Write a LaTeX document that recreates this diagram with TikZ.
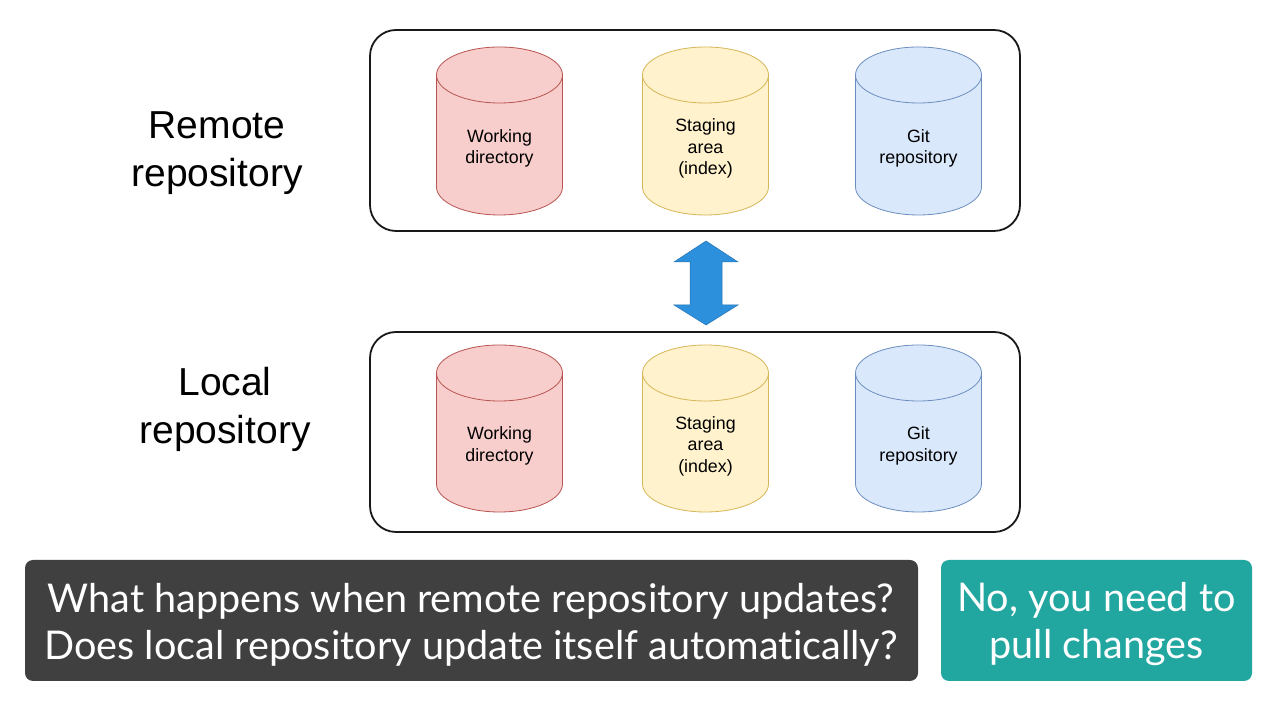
\documentclass[tikz,border=0pt]{standalone}
\usepackage{fontspec}
\setmainfont{Liberation Sans}
\newfontfamily\capfont[Ligatures=NoCommon]{Lato}
\begin{document}
\begin{tikzpicture}[x=1pt,y=1pt,
  repobox/.style={draw=black!90, line width=1.8pt, rounded corners=26pt},
  cyltext/.style={align=center, font=\fontsize{17.8}{21.5}\selectfont, text=black},
  sidelabel/.style={align=center, font=\fontsize{39}{48}\selectfont},
  capbox/.style={rounded corners=8pt},
  captext/.style={align=center, text=white, font=\capfont\fontsize{39.6}{47}\selectfont}]
\definecolor{redF}{HTML}{F8CECC}\definecolor{redD}{HTML}{B85450}
\definecolor{yelF}{HTML}{FFF2CC}\definecolor{yelD}{HTML}{D6B656}
\definecolor{bluF}{HTML}{DAE8FC}\definecolor{bluD}{HTML}{6C8EBF}
\definecolor{darkbg}{HTML}{404040}\definecolor{tealbg}{HTML}{21A6A0}
\definecolor{arrowblue}{HTML}{2D90DC}
\useasboundingbox[fill=white] (0,0) rectangle (1281,719);
% cylinder macro: #1 cx, #2 top Y, #3 bottom Y, #4 fill, #5 draw
\newcommand\mycyl[5]{%
  \draw[fill=#4, draw=#5, line width=0.8pt]
    (#1-63,#2-28) -- (#1-63,#3+28)
    arc[start angle=180, end angle=360, x radius=63, y radius=28]
    -- (#1+63,#2-28)
    arc[start angle=0, end angle=180, x radius=63, y radius=28] -- cycle;
  \draw[draw=#5, line width=0.8pt] (#1-63,#2-28)
    arc[start angle=180, end angle=360, x radius=63, y radius=28];}
% repository boxes
\draw[repobox] (370,689) rectangle (1020,488);
\draw[repobox] (370,387) rectangle (1020,187);
\node[minimum width=650pt, minimum height=201pt, inner sep=0] (remote) at (695,588.5) {};
\node[minimum width=650pt, minimum height=200pt, inner sep=0] (local) at (695,287) {};
% cylinders top
\mycyl{499.5}{672}{504}{redF}{redD}
\mycyl{705.5}{672}{504}{yelF}{yelD}
\mycyl{918.5}{672}{504}{bluF}{bluD}
\node[cyltext] (rwd) at (499.5,570.5) {Working\\directory};
\node[cyltext] (rsa) at (705.5,570.5) {Staging\\area\\(index)};
\node[cyltext] (rgit) at (918.5,570.5) {Git\\repository};
% cylinders bottom
\mycyl{499.5}{374}{207}{redF}{redD}
\mycyl{705.5}{374}{207}{yelF}{yelD}
\mycyl{918.5}{374}{207}{bluF}{bluD}
\node[cyltext] (lwd) at (499.5,273) {Working\\directory};
\node[cyltext] (lsa) at (705.5,273) {Staging\\area\\(index)};
\node[cyltext] (lgit) at (918.5,273) {Git\\repository};
% side labels
\node[sidelabel] (remlabel) at (217,566) {Remote\\repository};
\node[sidelabel] (loclabel) at (225,310) {Local\\repository};
% double arrow
\fill[arrowblue, draw=arrowblue!80!black, line width=0.5pt]
  (706,478) -- (738,457) -- (722,457) -- (722,414) -- (738,414) -- (706,394)
  -- (674,414) -- (690,414) -- (690,457) -- (674,457) -- cycle;
% caption boxes
\fill[darkbg, capbox] (25,159) rectangle (918,38);
\node[captext] (question) at (471,94.5) {What happens when remote repository updates?\\Does local repository update itself automatically?};
\fill[tealbg, capbox] (941,159) rectangle (1252,38);
\node[captext] (answer) at (1096.5,94.5) {No, you need to\\pull changes};
\end{tikzpicture}
\end{document}
